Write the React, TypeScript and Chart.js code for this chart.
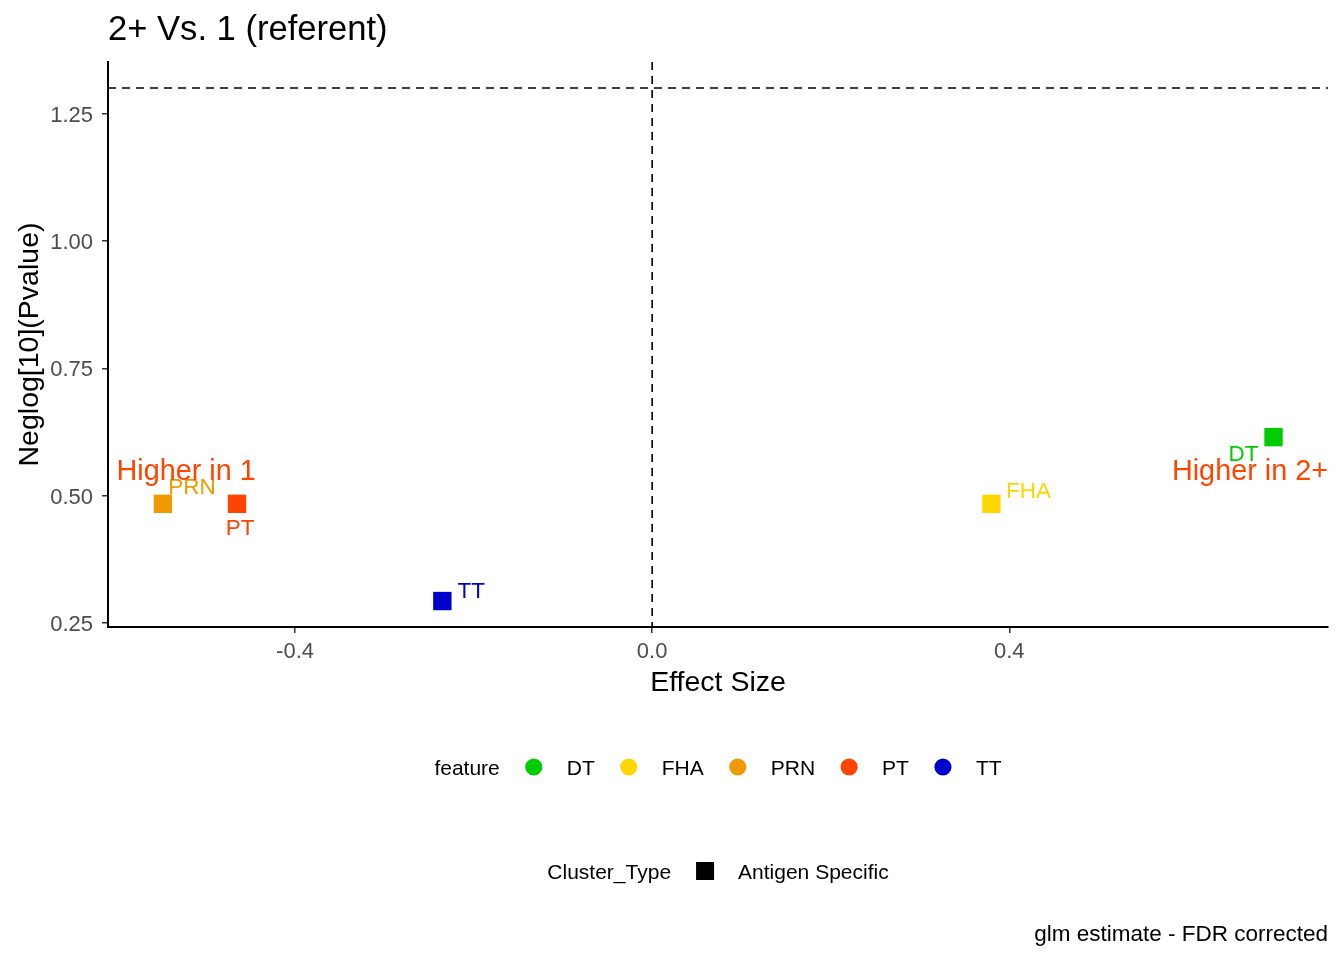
import { useEffect, useRef } from 'react'
import { Chart, registerables } from 'chart.js'
import type { Plugin } from 'chart.js'

Chart.register(...registerables)

const FONT = '"Liberation Sans", Arial, Helvetica, sans-serif'

// data
const features = ['DT', 'FHA', 'PRN', 'PT', 'TT']
const featureColors = ['#00CD00', '#FFD700', '#EE9A00', '#FF4500', '#0000CD']
const effectSize = [0.696, 0.38, -0.548, -0.465, -0.235]
const neglogP = [0.615, 0.484, 0.484, 0.484, 0.293]

const xTicks = [-0.4, 0.0, 0.4]
const yTicks = [0.25, 0.5, 0.75, 1.0, 1.25]
const pThreshold = 1.30103 // -log10(0.05)

const clusterTypes = ['Antigen Specific']

// repel-style label nudges (px), same order as features
const labelNudge = [
  [-30, 16],
  [37, -14],
  [29, -18],
  [3, 23],
  [29, -11],
]

const sideNotes = [
  { text: 'Higher in 1', x: -0.6, y: 0.55, align: 'left' as CanvasTextAlign },
  { text: 'Higher in 2+', x: 0.757, y: 0.55, align: 'right' as CanvasTextAlign },
]

const overlay: Plugin<'scatter'> = {
  id: 'overlay',
  beforeDatasetsDraw(chart) {
    const { ctx, chartArea: a, scales } = chart
    const x0 = scales.x.getPixelForValue(0)
    const yT = scales.y.getPixelForValue(pThreshold)
    ctx.save()
    ctx.strokeStyle = '#000'
    ctx.lineWidth = 1.6
    ctx.setLineDash([8, 6])
    ctx.beginPath()
    ctx.moveTo(a.left, yT)
    ctx.lineTo(a.right, yT)
    ctx.moveTo(x0, a.top)
    ctx.lineTo(x0, a.bottom)
    ctx.stroke()
    ctx.restore()
  },
  afterDatasetsDraw(chart) {
    const { ctx, scales } = chart
    ctx.save()
    // point labels
    ctx.font = `22.5px ${FONT}`
    ctx.textAlign = 'center'
    ctx.textBaseline = 'alphabetic'
    features.forEach((f, i) => {
      const px = scales.x.getPixelForValue(effectSize[i])
      const py = scales.y.getPixelForValue(neglogP[i])
      ctx.fillStyle = featureColors[i]
      ctx.fillText(f, px + labelNudge[i][0], py + labelNudge[i][1] + 8)
    })
    // direction notes
    ctx.font = `28.8px ${FONT}`
    ctx.fillStyle = '#FF4500'
    sideNotes.forEach((n) => {
      ctx.textAlign = n.align
      ctx.fillText(n.text, scales.x.getPixelForValue(n.x), scales.y.getPixelForValue(n.y) + 10)
    })
    ctx.restore()
  },
  afterDraw(chart) {
    const { ctx, chartArea: a } = chart
    const cx = (a.left + a.right) / 2
    ctx.save()
    ctx.fillStyle = '#000'
    ctx.textBaseline = 'alphabetic'

    // title
    ctx.font = `34.6px ${FONT}`
    ctx.textAlign = 'left'
    ctx.fillText('2+ Vs. 1 (referent)', a.left, 40)

    // legends
    const drawRow = (cy: number, title: string, labels: string[], key: (x: number, i: number) => void) => {
      ctx.font = `21px ${FONT}`
      ctx.textAlign = 'left'
      const tw = ctx.measureText(title).width
      const lw = labels.map((l) => ctx.measureText(l).width)
      const total = tw + lw.reduce((s, w) => s + w + 67, 0)
      let x = cx - total / 2
      ctx.fillStyle = '#000'
      ctx.fillText(title, x, cy + 7.5)
      x += tw
      labels.forEach((l, i) => {
        x += 34
        key(x, i)
        x += 33
        ctx.fillStyle = '#000'
        ctx.fillText(l, x, cy + 7.5)
        x += lw[i]
      })
    }
    drawRow(767, 'feature', features, (x, i) => {
      ctx.fillStyle = featureColors[i]
      ctx.beginPath()
      ctx.arc(x, 767, 8.6, 0, Math.PI * 2)
      ctx.fill()
    })
    drawRow(871, 'Cluster_Type', clusterTypes, (x) => {
      ctx.fillStyle = '#000'
      ctx.fillRect(x - 9, 871 - 9, 18, 18)
    })

    // caption
    ctx.font = `22.5px ${FONT}`
    ctx.fillStyle = '#000'
    ctx.textAlign = 'right'
    ctx.fillText('glm estimate - FDR corrected', a.right, 941)
    ctx.restore()
  },
}

const App = () => {
  const canvasRef = useRef<HTMLCanvasElement>(null)
  const chartRef = useRef<Chart | null>(null)

  useEffect(() => {
    if (!canvasRef.current) return
    if (chartRef.current) chartRef.current.destroy()

    chartRef.current = new Chart(canvasRef.current, {
      type: 'scatter',
      data: {
        datasets: features.map((f, i) => ({
          label: f,
          data: [{ x: effectSize[i], y: neglogP[i] }],
          backgroundColor: featureColors[i],
          borderWidth: 0,
          pointStyle: 'rect',
          pointRadius: 13,
          pointHoverRadius: 13,
        })),
      },
      options: {
        responsive: false,
        animation: false,
        devicePixelRatio: 1,
        layout: { padding: { left: 0, top: 62, right: 16, bottom: 256 } },
        plugins: {
          legend: { display: false },
          tooltip: { enabled: false },
        },
        scales: {
          x: {
            type: 'linear',
            min: -0.6095,
            max: 0.757,
            afterBuildTicks: (s) => {
              s.ticks = xTicks.map((v) => ({ value: v }))
            },
            afterFit: (s) => {
              s.height = 77
            },
            grid: { drawOnChartArea: false, drawTicks: true, tickLength: 6, color: '#333', lineWidth: 1.5 },
            border: { color: '#000', width: 2 },
            ticks: {
              color: '#4D4D4D',
              padding: 6,
              font: { family: FONT, size: 22 },
              callback: (v) => Number(v).toFixed(1),
            },
            title: {
              display: true,
              text: 'Effect Size',
              color: '#000',
              font: { family: FONT, size: 28.5 },
              padding: { top: 0, bottom: 4 },
            },
          },
          y: {
            type: 'linear',
            min: 0.242,
            max: 1.352,
            afterBuildTicks: (s) => {
              s.ticks = yTicks.map((v) => ({ value: v }))
            },
            afterFit: (s) => {
              s.width = 108
            },
            grid: { drawOnChartArea: false, drawTicks: true, tickLength: 6, color: '#333', lineWidth: 1.5 },
            border: { color: '#000', width: 2 },
            ticks: {
              color: '#4D4D4D',
              padding: 9,
              labelOffset: 2,
              font: { family: FONT, size: 22 },
              callback: (v) => Number(v).toFixed(2),
            },
            title: {
              display: true,
              text: 'Neglog[10](Pvalue)',
              color: '#000',
              font: { family: FONT, size: 28.5 },
              padding: { top: 13, bottom: 0 },
            },
          },
        },
      },
      plugins: [overlay],
    })

    return () => {
      if (chartRef.current) {
        chartRef.current.destroy()
        chartRef.current = null
      }
    }
  }, [])

  return (
    <div style={{ position: 'absolute', left: 0, top: 0, width: 1344, height: 960, background: '#fff' }}>
      <canvas ref={canvasRef} width={1344} height={960}></canvas>
    </div>
  )
}

export default App
